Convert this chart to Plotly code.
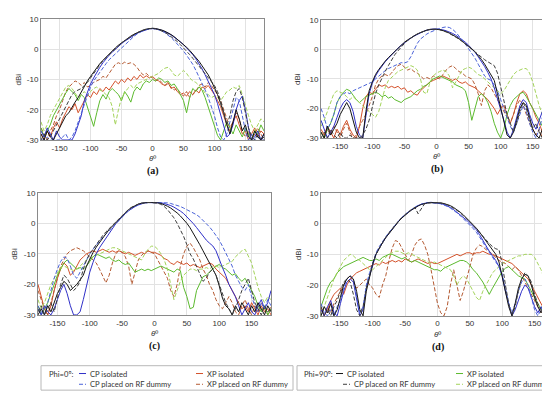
import plotly.graph_objects as go

# ---------------- data (dBi), theta from -180 to 180 step 5 ----------------
theta = list(range(-180, 181, 5))

x_ticks = [-150, -100, -50, 0, 50, 100, 150]
x_tick_labels = ["-150", "-100", "-50", "0", "50", "100", "150"]
y_ticks = [-30, -20, -10, 0, 10]
y_tick_labels = ["-30", "-20", "-10", "0", "10"]

# ---- panel (a)
A_CP0_ISO = [-27, -29, -26, -28, -30, -27, -29, -30, -30, -30, -30, -28,
             -25, -22, -17, -14, -11.5, -9.5, -7.5, -6, -4.5, -3.2, -2, -1,
             0, 1, 1.8, 2.6, 3.3, 4, 4.6, 5.2, 5.7, 6.1, 6.4, 6.7,
             6.8, 6.7, 6.5, 6.2, 5.8, 5.3, 4.7, 4, 3.2, 2.4, 1.5, 0.5,
             -0.5, -1.8, -3.2, -4.8, -6.5, -8.5, -10.5, -12.5, -15, -18, -22, -26,
             -29, -28, -25, -20, -17, -15.5, -20, -26, -30, -29, -27, -30,
             -28]
A_CP0_PL = [-30, -30, -29, -30, -30, -30, -30, -29, -28, -30, -29, -27,
            -24, -21, -18, -15, -12.5, -10.5, -9, -7.5, -6, -4.8, -3.5, -2.5,
            -1.5, -0.5, 0.5, 1.5, 2.5, 3.4, 4.2, 5, 5.6, 6.1, 6.5, 6.7,
            6.8, 6.7, 6.4, 6, 5.4, 4.7, 3.8, 2.8, 1.7, 0.6, -0.6, -2,
            -3.5, -5, -7, -9, -11, -13.5, -16, -19, -22, -26, -29, -30,
            -28, -24, -20, -16, -17, -22, -27, -30, -28, -30, -29, -30,
            -30]
A_CP90_ISO = [-28, -30, -27, -29, -30, -28, -26, -24, -22, -21, -19, -17.5,
              -16, -14, -12.5, -10.5, -9, -7.5, -6, -4.8, -3.7, -2.6, -1.6, -0.6,
              0.4, 1.3, 2.1, 2.9, 3.6, 4.3, 4.9, 5.4, 5.9, 6.3, 6.6, 6.8,
              6.9, 6.8, 6.6, 6.3, 5.9, 5.4, 4.8, 4.1, 3.3, 2.5, 1.6, 0.6,
              -0.4, -1.5, -2.8, -4, -5.5, -7, -8.5, -10.5, -12.5, -15, -18, -21,
              -25, -28, -24, -20, -23, -27, -25, -29, -30, -27, -29, -30,
              -28]
A_CP90_PL = [-30, -28, -30, -29, -27, -25, -23, -21, -19, -17, -15, -14,
             -13.5, -13, -12, -11, -9.5, -8, -6.5, -5, -3.8, -2.8, -1.8, -0.8,
             0.2, 1.1, 2, 2.8, 3.5, 4.2, 4.8, 5.4, 5.9, 6.3, 6.6, 6.8,
             6.8, 6.7, 6.4, 6, 5.5, 4.9, 4.2, 3.4, 2.5, 1.5, 0.5, -0.6,
             -1.8, -3, -4.3, -5.7, -7, -8.3, -9.5, -10.5, -12, -14, -17, -21,
             -25, -22, -17, -14, -13, -16, -21, -26, -29, -30, -28, -30,
             -29]
A_XP0_ISO = [-28, -30, -27, -29, -26, -24, -26, -23, -21, -19, -20, -18,
             -21, -19, -17, -15, -16, -14, -15, -13, -14, -12.5, -13.5, -12,
             -10.5, -11.5, -10, -11, -9.5, -10.5, -9, -10, -8.5, -9.5, -8.8, -9.5,
             -9, -10, -10.5, -11.5, -12, -11, -13, -12.5, -14, -15, -14.5, -15.5,
             -14, -15, -13.5, -14.5, -12.5, -13, -12, -13.5, -15, -17, -19, -22,
             -25, -27, -24, -22, -25, -28, -27, -30, -28, -26, -29, -27,
             -28]
A_XP0_PL = [-26, -28, -30, -27, -25, -22, -20, -17, -14, -12.5, -11.5, -10.5,
            -11, -12, -11, -12.5, -12, -11, -10.5, -10, -9, -9.5, -8, -6.5,
            -5, -4.5, -5, -4.3, -4.8, -4.5, -5, -6, -7.5, -8.5, -8, -9,
            -9.5, -10.5, -10, -11, -12, -11.5, -12.5, -13.5, -13, -14.5, -15.5, -14,
            -16, -15, -14, -12, -11.5, -12.5, -11, -12, -13.5, -15, -17, -20,
            -23, -26, -24, -21, -23, -27, -29, -27, -30, -28, -26, -28,
            -30]
A_XP90_ISO = [-26, -29, -27, -25, -22, -20, -18, -16, -14.5, -13, -14, -15,
              -17, -15, -16, -19, -22, -25.5, -21, -17, -15, -16.5, -14, -13,
              -14, -15, -17, -14, -15.5, -17.5, -14, -12.5, -13.5, -11.5, -10.5, -11,
              -10, -10.5, -9.5, -10, -11, -10.5, -12, -11.5, -13, -15, -17, -21,
              -16, -13, -14, -12.5, -13.5, -16, -19, -22, -25, -28.5, -30, -27,
              -24, -26, -28, -25, -27, -29, -26, -28, -30, -27, -28, -25,
              -27]
A_XP90_PL = [-24, -27, -25, -22, -20, -18, -16, -14, -12.5, -12, -13, -14.5,
             -16, -15, -14, -15.5, -14, -13, -12.5, -13.5, -14, -15, -16, -19,
             -25, -20, -16, -14.5, -13, -12, -13, -11.5, -11, -10.5, -10, -9.5,
             -9, -8.5, -8, -7, -6.3, -6, -7, -8.5, -9, -8, -7, -8,
             -9.5, -10.5, -11, -12, -13, -14.5, -15, -16, -15.5, -16, -17, -15.5,
             -14, -13.5, -12.5, -13, -12, -15, -19, -22, -25, -27, -25, -23,
             -24]

# ---- panel (b)
B_CP0_ISO = [-24, -27, -30, -28, -26, -23, -20, -18, -17, -18, -21, -26,
             -29, -30, -22, -15, -11.5, -9, -7.2, -5.6, -4.2, -3, -1.8, -0.7,
             0.4, 1.4, 2.3, 3.1, 3.8, 4.5, 5.1, 5.6, 6.1, 6.5, 6.8, 6.9,
             6.9, 6.8, 6.6, 6.3, 5.9, 5.4, 4.8, 4.1, 3.3, 2.4, 1.4, 0.3,
             -1, -2.5, -4, -5.8, -7.8, -10, -13, -16.5, -20, -24, -28, -30,
             -27, -23, -19, -17, -18, -22, -25, -27, -24, -21, -23, -26,
             -24]
B_CP0_PL = [-20, -23, -27, -25, -22, -18, -16, -15, -14.5, -15, -14, -13.5,
            -13, -12.5, -12, -11.5, -11, -10, -9, -8, -7.2, -6.5, -6, -5.5,
            -5, -4.5, -4.6, -4.2, -2.5, 0, 2, 3.5, 4.5, 5.2, 5.8, 6.3,
            6.7, 7.1, 7.4, 7.6, 7.4, 6.8, 5.8, 4.6, 3.2, 1.8, 0.3, -1.3,
            -3, -5, -7, -9, -10, -10.5, -12, -14, -17, -20, -23, -26,
            -28, -25, -22, -19, -21, -25, -28, -30, -27, -23, -21, -24,
            -22]
B_CP90_ISO = [-28, -30, -26, -29, -27, -25, -22, -20, -18, -20, -24, -28,
              -30, -30, -21, -14, -11, -8.5, -6.8, -5.3, -4, -2.8, -1.7, -0.6,
              0.5, 1.5, 2.4, 3.2, 3.9, 4.6, 5.2, 5.7, 6.2, 6.5, 6.8, 6.9,
              6.8, 6.7, 6.4, 6, 5.5, 5, 4.3, 3.6, 2.8, 2, 1.1, 0.2,
              -0.8, -2, -3.4, -5, -6.8, -8.5, -10.5, -15, -20, -25, -29, -30,
              -28, -24, -20, -18, -19, -23, -27, -29, -30, -27, -29, -28,
              -30]
B_CP90_PL = [-30, -28, -30, -27, -29, -30, -28, -30, -30, -29, -30, -30,
             -30, -29, -27, -24, -19.5, -15, -12, -9.5, -7.5, -5.5, -3.5, -1.8,
             -0.5, 0.8, 2, 3, 3.9, 4.6, 5.2, 5.7, 6.2, 6.5, 6.7, 6.8,
             6.8, 6.6, 6.3, 5.9, 5.4, 4.8, 4.2, 3.5, 2.7, 1.8, 0.9, 0,
             -1, -2, -2.8, -3.5, -4.2, -4.8, -5.5, -8, -13, -18, -22, -25,
             -28, -25, -21, -18, -20, -24, -27, -25, -28, -30, -27, -25,
             -27]
B_XP0_ISO = [-27, -29, -26, -28, -30, -27, -29, -26, -24, -27, -29, -30,
             -26, -20, -16, -14.5, -15, -13.5, -12, -12.5, -12, -13, -12.5, -13,
             -12.5, -13.5, -13, -14.5, -14, -15, -15.5, -14, -13, -12, -11, -10.5,
             -10, -9.5, -9, -9.5, -10, -10.5, -10, -11, -11.5, -11, -12, -12.5,
             -13, -14, -15, -16, -17, -18.5, -20, -22, -20, -19, -22, -25,
             -22, -18, -15, -14, -15, -18, -20, -23, -25, -28, -26, -29,
             -27]
B_XP0_PL = [-28, -30, -27, -29, -26, -28, -30, -27, -25, -28, -30, -29,
            -26, -24, -22, -19, -16, -12, -10, -9, -8.5, -9, -8, -6.5,
            -5.5, -5, -6, -7, -6.5, -7.5, -8, -9, -10, -9.5, -10, -9,
            -9.5, -10, -8.5, -7, -6, -5.5, -6.5, -7.5, -8, -9, -9.5, -10,
            -12, -15, -19, -14, -12, -13, -15, -17, -19, -21, -23, -25,
            -22, -19, -17, -19, -22, -25, -27, -29, -27, -30, -28, -26,
            -28]
B_XP90_ISO = [-28, -30, -27, -25, -22, -18, -16, -14.5, -13.5, -14, -15.5, -17,
              -18, -17, -16, -15.5, -15, -14.5, -15, -16, -15.5, -16.5, -16, -17,
              -17.5, -18, -17, -16.5, -16, -15, -14, -13.5, -12.5, -12, -11, -10,
              -9.5, -9, -9.5, -10, -10.5, -11, -12, -12.5, -13, -14, -18, -24,
              -20, -16, -15, -16, -18, -21, -25, -28, -30, -27, -22, -19,
              -17, -16, -15, -14.5, -16, -18, -20, -22, -24, -26, -23, -25,
              -27]
B_XP90_PL = [-26, -24, -21, -18, -15, -14, -14.5, -15, -16, -17, -16, -17,
             -18, -19, -20, -21, -22, -23, -21, -17, -13, -10.5, -9.5, -8.5,
             -7.5, -7, -6.5, -6, -5.5, -6, -7, -10, -14.5, -15, -11, -9,
             -8, -7.5, -7, -7.5, -9, -13, -11, -8.5, -7, -6.5, -6, -6.5,
             -7.5, -8.5, -9, -10, -11, -12, -13, -14, -15, -14, -12, -10,
             -8.5, -7.5, -7, -6.5, -6.5, -8, -11, -15, -19, -22, -21, -23,
             -22]

# ---- panel (c)
C_CP0_ISO = [-28, -30, -27, -29, -30, -28, -25, -22, -20, -23, -27, -30,
             -30, -29, -25, -20, -16, -12.8, -10, -8, -6.4, -4.8, -3.2, -1.4,
             -0.2, 1, 2.2, 3.2, 4.1, 4.9, 5.5, 6, 6.4, 6.7, 6.8, 6.8,
             6.8, 6.8, 6.7, 6.5, 6.2, 5.8, 5.3, 4.7, 4, 3.2, 2.2, 1.1,
             -0.1, -1.4, -2.8, -4.1, -5.5, -6.5, -7.4, -9, -12, -14.5, -17, -20,
             -22, -24, -27, -30, -28, -26, -29, -30, -27, -25, -28, -26,
             -22]
C_CP0_PL = [-27, -29, -30, -26, -22, -18, -15, -12.5, -11, -11.5, -14, -17,
            -18, -16, -13.5, -12, -10, -8.5, -7, -5.8, -4.6, -3.5, -2.3, -1.2,
            0, 1.2, 2.3, 3.3, 4.2, 5, 5.6, 6.1, 6.5, 6.7, 6.8, 6.8,
            6.8, 6.8, 6.8, 6.8, 6.7, 6.5, 6.2, 5.9, 5.5, 5, 4.5, 3.9,
            3.4, 2.8, 2, 1, 0, -1.2, -2.5, -4, -5.5, -7.5, -9.5, -11.7,
            -14, -17, -19, -21, -22, -20, -24, -27, -29, -26, -28, -25,
            -27]
C_CP90_ISO = [-30, -28, -30, -27, -29, -26, -23, -21, -19, -20, -22, -21,
              -20, -18.5, -17, -14, -11.5, -9.6, -7.8, -6.2, -4.8, -3.4, -2, -0.9,
              0.3, 1.5, 2.6, 3.6, 4.5, 5.2, 5.8, 6.3, 6.6, 6.8, 6.8, 6.8,
              6.8, 6.7, 6.5, 6.1, 5.6, 5, 4.3, 3.4, 2.4, 1.3, 0, -1.5,
              -3.2, -5, -7, -9, -11, -13, -15, -17, -20.5, -24.5, -27, -28,
              -30, -27, -29, -26, -28, -30, -27, -29, -26, -28, -30, -27,
              -29]
C_CP90_PL = [-29, -27, -30, -28, -26, -29, -24, -20, -17, -18, -20, -22,
             -21, -19, -15, -12, -10, -8.5, -6.8, -5.3, -4, -2.8, -1.7, -0.6,
             0.5, 1.6, 2.7, 3.7, 4.6, 5.3, 5.9, 6.3, 6.6, 6.8, 6.8, 6.8,
             6.8, 6.6, 6.2, 5.5, 4.5, 3.3, 1.8, 0, -2, -4.3, -7, -10,
             -11.7, -14, -16.5, -19, -18, -16, -15, -17, -20, -23, -26, -28,
             -30, -28, -25, -22, -20, -18, -22, -26, -28, -30, -27, -29,
             -28]
C_XP0_ISO = [-20, -24, -28, -30, -27, -22, -18, -15, -13, -14, -17, -16,
             -14, -12, -11, -10, -9.5, -9, -9.5, -9, -8.5, -9, -9.5, -9,
             -9.5, -9, -9.5, -10, -9.5, -10, -10.5, -10, -9.5, -10, -9, -9.5,
             -9.5, -10, -10.5, -11.5, -12, -13, -13.5, -12.5, -13, -13.5, -13, -14,
             -13.5, -14, -14.5, -14, -13.5, -13, -13.5, -15, -16, -17, -18, -20,
             -22, -24, -26, -28, -27, -29, -26, -28, -30, -27, -29, -28,
             -30]
C_XP0_PL = [-22, -25, -28, -30, -26, -22, -18, -14, -12, -10, -9, -8.5,
            -8, -8.5, -9, -10, -11, -12, -13, -15, -17, -19.5, -17, -13,
            -10, -9, -9.5, -11, -14, -20, -16, -12, -10.5, -9.5, -9, -9.5,
            -10, -12, -14, -16, -18, -22, -24, -20, -14, -10, -7.5, -6.5,
            -8, -10, -12, -15, -17, -20, -22, -25, -27, -28, -26, -24,
            -26, -29, -30, -27, -25, -28, -30, -27, -29, -26, -28, -30,
            -27]
C_XP90_ISO = [-27, -30, -28, -26, -23, -20, -17, -15, -13, -12, -13, -14,
              -15, -14.5, -15, -14, -12.5, -11, -10, -10.5, -11, -11.5, -11, -12,
              -12.5, -12, -13, -13.5, -13, -14.5, -16, -15.5, -15, -15.5, -15, -15.5,
              -15, -14.5, -14, -14.5, -15, -15.5, -16, -15, -15.5, -21, -24, -28,
              -27.5, -22, -20, -17.5, -17, -16, -15, -14, -13.5, -14.5, -15, -16,
              -17, -16.5, -18, -19, -18, -20, -22, -24, -27, -29, -27, -30,
              -28]
C_XP90_PL = [-25, -28, -26, -23, -20, -18, -16, -14.5, -14, -14.5, -15, -15.5,
             -15, -14, -13, -12, -11.5, -11, -10.5, -10, -9.5, -9, -8.5, -8,
             -8, -8.5, -9, -9.5, -10, -10.5, -11, -11.5, -12, -10, -8.5, -7.5,
             -7.5, -8.5, -10, -12, -15, -20, -25, -22, -19, -17, -16, -15,
             -15, -15.5, -15, -15, -14.5, -15, -14, -14, -14.5, -14, -13.5, -13,
             -12.5, -11, -10, -9, -8.5, -11, -13, -17, -21, -24, -26, -24,
             -25]

# ---- panel (d)
D_CP0_ISO = [-28, -30, -27, -25, -29, -30, -26, -22, -19, -18, -19, -24,
             -30, -28, -21, -17, -13.5, -10, -8, -6.2, -4.6, -3.2, -1.8, -0.4,
             0.8, 1.9, 2.9, 3.7, 4.5, 5.2, 5.8, 6.3, 6.6, 6.8, 6.9, 6.8,
             6.7, 6.5, 6.2, 5.8, 5.2, 4.5, 3.7, 2.9, 2, 1.1, 0.1, -0.9,
             -2, -3.6, -5.5, -7.5, -9, -10.5, -12, -14, -17, -22, -26, -30,
             -28, -25, -22, -20, -21, -24, -27, -29, -27, -30, -28, -26,
             -29]
D_CP0_PL = [-26, -29, -30, -28, -30, -27, -25, -21, -18, -17, -18, -23,
            -29, -27, -20, -16, -12.5, -9.5, -7.5, -5.8, -4.3, -2.9, -1.6, -0.3,
            0.9, 2, 3, 3.8, 4.6, 5.3, 5.9, 6.3, 6.6, 6.8, 6.8, 6.7,
            6.6, 6.4, 6.1, 5.6, 5, 4.3, 3.5, 2.6, 1.6, 0.6, -0.5, -1.6,
            -2.8, -4.2, -6, -7.8, -9.5, -11, -12.5, -14, -16.5, -21, -26, -29,
            -26, -22, -19, -18, -20, -24, -28, -30, -28, -26, -29, -27,
            -28]
D_CP90_ISO = [-30, -27, -29, -26, -30, -28, -24, -20, -18, -17, -18, -22,
              -28, -30, -22, -17, -13, -10, -8, -6.2, -4.6, -3.2, -1.8, -0.5,
              0.7, 1.8, 2.8, 3.6, 4.4, 5.1, 5.7, 6.2, 6.5, 6.7, 6.8, 6.8,
              6.8, 6.7, 6.5, 6.2, 5.8, 5.2, 4.5, 3.7, 2.8, 1.8, 0.8, -0.3,
              -1.5, -2.8, -4.2, -5.7, -7.2, -8.6, -10, -12.5, -17, -22, -27, -30,
              -26, -21, -18, -16.5, -17, -20, -24, -27, -29, -27, -30, -28,
              -27]
D_CP90_PL = [-27, -30, -28, -30, -27, -25, -22, -19, -18, -19, -23, -28,
             -30, -27, -21, -16.5, -13, -10, -8, -6.2, -4.5, -3, -1.6, -0.3,
             0.9, 2, 3, 3.8, 4.6, 5.3, 3.2, 4.8, 6.4, 6.7, 6.8, 6.8,
             6.8, 6.7, 6.5, 6.1, 5.6, 5, 4.3, 3.5, 2.6, 1.6, 0.6, -0.5,
             -1.7, -3, -4.3, -5.5, -6.5, -7.5, -8.2, -8.5, -13, -20, -26, -30,
             -27, -22, -18, -16, -17, -19, -23, -26, -28, -30, -27, -29,
             -28]
D_XP0_ISO = [-27, -30, -28, -25, -23, -22, -21, -23, -20, -18, -17, -16,
             -15.5, -15, -14.5, -14, -13.5, -13, -13.5, -12.5, -13, -12.5, -12, -12.5,
             -12, -12.5, -11.5, -12, -12.5, -12, -11.5, -12, -12.5, -13, -12.5, -13,
             -13, -12.5, -12, -11.5, -11, -10.5, -10, -10.5, -10, -9.5, -9.5, -10,
             -9.5, -9.5, -9, -9.5, -10, -10, -10.5, -11, -11.5, -12, -12.5, -13,
             -14, -15, -16, -17, -18, -20, -22, -24, -26, -28, -27, -29,
             -28]
D_XP0_PL = [-28, -30, -27, -29, -26, -24, -22, -20, -18, -17, -19, -21,
            -20, -19, -18, -20, -21, -23, -24, -20, -17, -12, -8, -5.5,
            -6, -8, -10, -12, -10, -7, -5.5, -5, -7, -10, -15, -20,
            -26, -29, -30, -27, -20, -15, -20, -25, -22, -18, -14, -10,
            -8, -7, -7.5, -8.5, -9, -10, -11, -12, -12.5, -13, -14, -15,
            -14, -15, -17, -19, -21, -23, -25, -27, -29, -26, -28, -30,
            -27]
D_XP90_ISO = [-27, -24, -21, -19, -18, -16, -15, -14, -13.5, -13, -12.5, -12,
              -11.5, -11, -11.5, -12, -12, -11.5, -12, -11, -10.5, -10, -10, -10.5,
              -11, -11.5, -11, -12, -12.5, -12, -12.5, -13, -13.5, -14, -14.5, -15,
              -15, -15.5, -14.5, -14, -13.5, -13, -12.5, -12, -12, -12.5, -13.5, -15,
              -16, -17.5, -19, -21, -23, -21, -19, -17, -15.5, -14.5, -14, -15,
              -16, -17, -17.5, -18, -20, -22, -24, -26, -28, -25, -27, -29,
              -26]
D_XP90_PL = [-30, -27, -24, -21, -18, -16, -14, -12, -11, -10, -10.5, -11.5,
             -12, -13, -14, -15, -15, -14, -13, -12, -11, -10, -9.5, -9,
             -9, -9.5, -10, -9.5, -10, -10.5, -11, -11.5, -12, -12.5, -13, -12.5,
             -13, -13.5, -14, -14.5, -15, -17, -20, -18, -17, -18, -20, -22,
             -24, -25, -22, -20, -18, -16, -15, -14, -13, -12.5, -12, -11.5,
             -11, -10.5, -10.5, -10, -10, -10, -11, -13, -15, -18, -22, -24,
             -25]

series_names = ["CP isolated", "CP placed on RF dummy", "XP isolated", "XP placed on RF dummy"]
panel_labels = ["(a)", "(b)", "(c)", "(d)"]

# ---------------- styling ----------------
W, H = 550, 393
C_CP0_ISO_COL = "#3030c8"
C_CP0_PL_COL = "#4a62d8"
C_XP0_ISO_COL = "#d4512a"
C_XP0_PL_COL = "#b45a32"
C_CP90_ISO_COL = "#141414"
C_CP90_PL_COL = "#3c3c3c"
C_XP90_ISO_COL = "#5cba2e"
C_XP90_PL_COL = "#a3d35a"
DASH = "4px,2px"


def px(x):
    return x / W


def py(y):
    return 1 - y / H


panels = [
    dict(xd=(33, 256), yd=(7, 131),
         d=[A_XP0_ISO, A_XP0_PL, A_XP90_ISO, A_XP90_PL, A_CP0_ISO, A_CP0_PL, A_CP90_ISO, A_CP90_PL]),
    dict(xd=(313, 544), yd=(8, 129),
         d=[B_XP0_ISO, B_XP0_PL, B_XP90_ISO, B_XP90_PL, B_CP0_ISO, B_CP0_PL, B_CP90_ISO, B_CP90_PL]),
    dict(xd=(30, 263), yd=(185, 310),
         d=[C_XP0_ISO, C_XP0_PL, C_XP90_ISO, C_XP90_PL, C_CP0_ISO, C_CP0_PL, C_CP90_ISO, C_CP90_PL]),
    dict(xd=(313, 546), yd=(185, 311),
         d=[D_XP0_ISO, D_XP0_PL, D_XP90_ISO, D_XP90_PL, D_CP0_ISO, D_CP0_PL, D_CP90_ISO, D_CP90_PL]),
]
styles = [
    (C_XP0_ISO_COL, "solid"), (C_XP0_PL_COL, DASH),
    (C_XP90_ISO_COL, "solid"), (C_XP90_PL_COL, DASH),
    (C_CP0_ISO_COL, "solid"), (C_CP0_PL_COL, DASH),
    (C_CP90_ISO_COL, "solid"), (C_CP90_PL_COL, DASH),
]

fig = go.Figure()
tick_font = dict(family="Liberation Sans, Arial, sans-serif", size=8, color="#333333")
annotations = []
shapes = []

for i, p in enumerate(panels):
    sfx = "" if i == 0 else str(i + 1)
    for vals, (col, dash) in zip(p["d"], styles):
        fig.add_trace(go.Scatter(x=theta, y=vals, mode="lines", xaxis="x" + sfx, yaxis="y" + sfx,
                                 line=dict(color=col, width=1, dash=dash), showlegend=False,
                                 hoverinfo="skip"))
    x0, x1 = p["xd"]
    y0, y1 = p["yd"]
    fig.layout["xaxis" + sfx] = dict(domain=[px(x0), px(x1)], range=[-180, 180], anchor="y" + sfx,
                                     tickvals=x_ticks, ticktext=x_tick_labels, tickfont=tick_font,
                                     showgrid=True, gridcolor="#e2e2e2", gridwidth=1,
                                     showline=True, linecolor="#8a8a8a", linewidth=1, mirror=True,
                                     zeroline=False, ticks="", ticklen=0)
    fig.layout["yaxis" + sfx] = dict(domain=[py(y1), py(y0)], range=[-30, 10], anchor="x" + sfx,
                                     tickvals=y_ticks, ticktext=y_tick_labels, tickfont=tick_font,
                                     showgrid=True, gridcolor="#e2e2e2", gridwidth=1,
                                     showline=True, linecolor="#8a8a8a", linewidth=1, mirror=True,
                                     zeroline=False, ticks="", ticklen=0)
    cx = (x0 + x1) / 2
    cy = (y0 + y1) / 2
    annotations.append(dict(x=px(x0 - 23), y=py(cy), xref="paper", yref="paper", text="dBi",
                            textangle=-90, showarrow=False, xanchor="center", yanchor="middle",
                            font=dict(family="Liberation Sans, Arial, sans-serif", size=8, color="#333333")))
    annotations.append(dict(x=px(cx), y=py(y1 + 19), xref="paper", yref="paper", text="<i>θ</i>º",
                            showarrow=False, xanchor="center", yanchor="middle",
                            font=dict(family="Liberation Sans, Arial, sans-serif", size=8, color="#333333")))
    annotations.append(dict(x=px(cx), y=py(y1 + 32), xref="paper", yref="paper",
                            text="<b>" + panel_labels[i] + "</b>",
                            showarrow=False, xanchor="center", yanchor="middle",
                            font=dict(family="Liberation Serif, DejaVu Serif, serif", size=10, color="#111111")))

# ---------------- legend boxes ----------------
leg_font = dict(family="Lato, Open Sans, sans-serif", size=7.6, color="#333333")
boxes = [
    dict(x0=33, x1=285, title="Phi=0º:", tx=39,
         items=[(C_CP0_ISO_COL, "solid", series_names[0], 71, 370),
                (C_CP0_PL_COL, DASH, series_names[1], 71, 381),
                (C_XP0_ISO_COL, "solid", series_names[2], 188, 370),
                (C_XP0_PL_COL, DASH, series_names[3], 188, 381)]),
    dict(x0=289, x1=542, title="Phi=90º:", tx=294,
         items=[(C_CP90_ISO_COL, "solid", series_names[0], 328, 370),
                (C_CP90_PL_COL, DASH, series_names[1], 335, 381),
                (C_XP90_ISO_COL, "solid", series_names[2], 448, 370),
                (C_XP90_PL_COL, DASH, series_names[3], 448, 381)]),
]
for b in boxes:
    shapes.append(dict(type="rect", xref="paper", yref="paper", x0=px(b["x0"]), x1=px(b["x1"]),
                       y0=py(387), y1=py(362), line=dict(color="#b8b8b8", width=1), fillcolor="white"))
    annotations.append(dict(x=px(b["tx"]), y=py(370), xref="paper", yref="paper", text=b["title"],
                            showarrow=False, xanchor="left", yanchor="middle", font=leg_font))
    for col, dash, label, lx, ly in b["items"]:
        shapes.append(dict(type="line", xref="paper", yref="paper", x0=px(lx), x1=px(lx + 7),
                           y0=py(ly), y1=py(ly), line=dict(color=col, width=1, dash=dash)))
        annotations.append(dict(x=px(lx + 9), y=py(ly), xref="paper", yref="paper", text=label,
                                showarrow=False, xanchor="left", yanchor="middle", font=leg_font))

fig.update_layout(width=W, height=H, margin=dict(l=0, r=0, t=0, b=0),
                  paper_bgcolor="white", plot_bgcolor="white",
                  annotations=annotations, shapes=shapes, showlegend=False)
fig.write_html("out.html")
